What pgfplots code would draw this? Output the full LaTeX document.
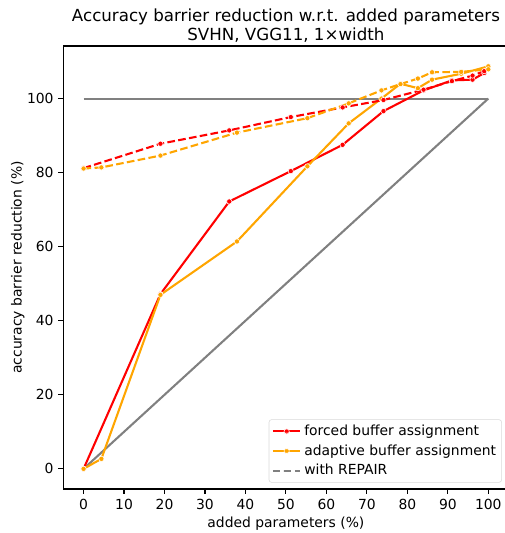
\documentclass[border=0pt]{standalone}
\usepackage{pgfplots}
\pgfplotsset{compat=1.18}
\usepackage{fontspec}
\setmainfont{DejaVu Sans}
\definecolor{mplorange}{HTML}{FFA500}
\definecolor{mplgray}{HTML}{808080}
\begin{document}
\begin{tikzpicture}
\useasboundingbox (-45.6pt,-31.7pt) rectangle (318.0pt,352.1pt);
\begin{axis}[
  scale only axis,
  width=320.6pt, height=319pt,
  xmin=-5, xmax=105,
  ymin=-5.44, ymax=114.2,
  xtick={0,10,...,100},
  ytick={0,20,...,100},
  tick align=outside,
  tick pos=left,
  major tick length=3.5pt,
  axis line style={line width=0.8pt},
  every tick/.style={black, line width=0.8pt},
  /pgf/number format/assume math mode=true,
  tick label style={font=\fontsize{10}{12}\selectfont},
  label style={font=\fontsize{10}{12}\selectfont},
  xlabel={added parameters (\%)},
  ylabel={accuracy barrier reduction (\%)},
  xlabel style={yshift=1pt},
  ylabel style={yshift=-5pt},
  title={Accuracy barrier reduction w.r.t. added parameters\\SVHN, VGG11, 1×width},
  title style={font=\fontsize{12}{14}\selectfont, align=center, yshift=-7pt},
  legend style={at={(rel axis cs:1,0)}, anchor=south east, xshift=-4.8pt, yshift=4.5pt,
    draw=black!15, rounded corners=2pt, fill=white, fill opacity=0.8, text opacity=1,
    font=\fontsize{10}{12}\selectfont, row sep=1pt, inner xsep=2pt, inner ysep=2pt},
  legend cell align=left,
  legend image code/.code={\draw[mark repeat=2,mark phase=2] plot coordinates {(0cm,0cm) (0.35cm,0cm) (0.7cm,0cm)};},
]
\addplot[mplgray, line width=1.5pt, forget plot] coordinates {(0,100) (100,100)};
\addplot[mplgray, line width=1.5pt, forget plot] coordinates {(0,0) (100,100)};

\addplot[red, line width=1.5pt, mark=*, mark size=1.9pt, mark options={solid, draw=white, line width=0.4pt, fill=red}]
coordinates {(0,0) (19,47.2) (36,72.2) (51.2,80.4) (64,87.5) (74.1,96.6) (84,102.2) (91,104.9) (96.1,105.1) (99,106.9)};
\addlegendentry{forced buffer assignment}

\addplot[mplorange, line width=1.5pt, mark=*, mark size=1.9pt, mark options={solid, draw=white, line width=0.4pt, fill=mplorange}]
coordinates {(0,0) (4.4,2.7) (19,47) (37.9,61.4) (55.3,81.7) (65.5,93.3) (73.6,100) (78.3,104) (82.6,102.8) (86.1,105.1) (93.3,106.7) (100,108.7)};
\addlegendentry{adaptive buffer assignment}

\addlegendimage{mplgray, line width=1.5pt, dash pattern=on 5.5pt off 2.4pt}
\addlegendentry{with REPAIR}

\addplot[red, line width=1.5pt, dash pattern=on 5.5pt off 2.4pt, mark=*, mark size=1.9pt, mark options={solid, draw=white, line width=0.4pt, fill=red}, forget plot]
coordinates {(0,81.2) (19,87.8) (36,91.4) (51.2,95.0) (64,97.6) (74.1,99.6) (84,102.4) (91,104.7) (96.1,106.2) (99,107.4)};

\addplot[mplorange, line width=1.5pt, dash pattern=on 5.5pt off 2.4pt, mark=*, mark size=1.9pt, mark options={solid, draw=white, line width=0.4pt, fill=mplorange}, forget plot]
coordinates {(0,81.1) (4.4,81.4) (19,84.6) (37.9,90.8) (55.3,94.7) (65.5,98.7) (73.6,102.2) (78.3,103.9) (82.6,105.4) (86.1,107.1) (93.3,107.2) (100,107.9)};
\end{axis}
\end{tikzpicture}
\end{document}
